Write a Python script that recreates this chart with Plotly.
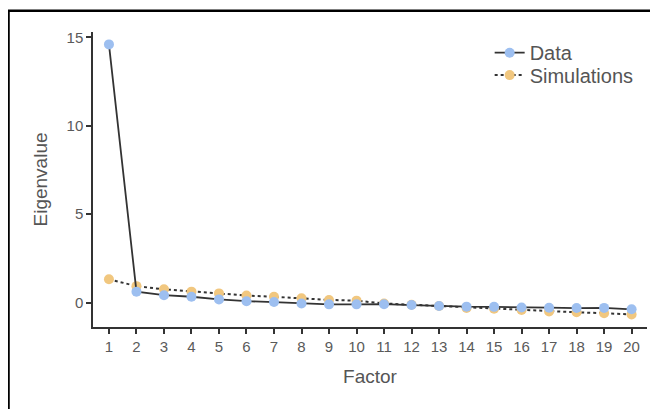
import plotly.graph_objects as go

factors = list(range(1, 21))
data_eigen = [14.6, 0.62, 0.42, 0.33, 0.18, 0.08, 0.03, -0.05, -0.1, -0.1,
              -0.09, -0.14, -0.19, -0.23, -0.24, -0.28, -0.29, -0.31, -0.30, -0.38]
sim_eigen = [1.32, 0.93, 0.75, 0.62, 0.52, 0.40, 0.33, 0.24, 0.15, 0.11,
             -0.05, -0.12, -0.19, -0.30, -0.35, -0.42, -0.50, -0.55, -0.60, -0.67]
tick_labels = [str(f) for f in factors]

blue = "#9dbff0"
orange = "#f1c77f"
line_col = "#333333"

fig = go.Figure()
fig.add_trace(go.Scatter(
    x=factors, y=sim_eigen, name="Simulations", mode="lines+markers",
    line=dict(color=line_col, width=2, dash="dot"),
    marker=dict(color=orange, size=10, line=dict(width=0)),
    legend="legend2",
))
fig.add_trace(go.Scatter(
    x=factors, y=data_eigen, name="Data", mode="lines+markers",
    line=dict(color=line_col, width=1.8),
    marker=dict(color=blue, size=10, line=dict(width=0)),
    legend="legend",
))

leg_common = dict(xanchor="left", yanchor="top", font=dict(size=20, color="#555555"),
                  itemwidth=30, bgcolor="rgba(0,0,0,0)")
fig.update_layout(
    width=650, height=401,
    margin=dict(l=85, r=11, t=24, b=82),
    paper_bgcolor="white", plot_bgcolor="white",
    font=dict(family="Liberation Sans, Arial, sans-serif", color="#555555"),
    legend=dict(x=0.716, y=0.996, **leg_common),
    legend2=dict(x=0.716, y=0.92, **leg_common),
    showlegend=True,
)
fig.update_xaxes(
    range=[0.42, 20.56], tickmode="array", tickvals=factors, ticktext=tick_labels,
    showgrid=False, zeroline=False, showline=True, linecolor="#333333", linewidth=1.5,
    ticks="outside", ticklen=5, tickcolor="#333333", tickwidth=1.5,
    tickfont=dict(size=15, color="#5a5a5a"),
    title=dict(text="Factor", font=dict(size=19, color="#555555"), standoff=16),
)
fig.update_yaxes(
    range=[-1.38, 15.3], tickvals=[0, 5, 10, 15],
    showgrid=False, zeroline=False, showline=True, linecolor="#333333", linewidth=1.5,
    ticks="outside", ticklen=5, tickcolor="#333333", tickwidth=1.5,
    tickfont=dict(size=15, color="#5a5a5a"),
    title=dict(text="Eigenvalue", font=dict(size=19, color="#555555"), standoff=14),
)
fig.add_shape(type="rect", xref="paper", yref="paper",
              x0=-0.1525, x1=1.06, y0=-0.4, y1=1.0718,
              line=dict(color="black", width=2.5), fillcolor="rgba(0,0,0,0)", layer="above")

fig.write_html("out.html")
